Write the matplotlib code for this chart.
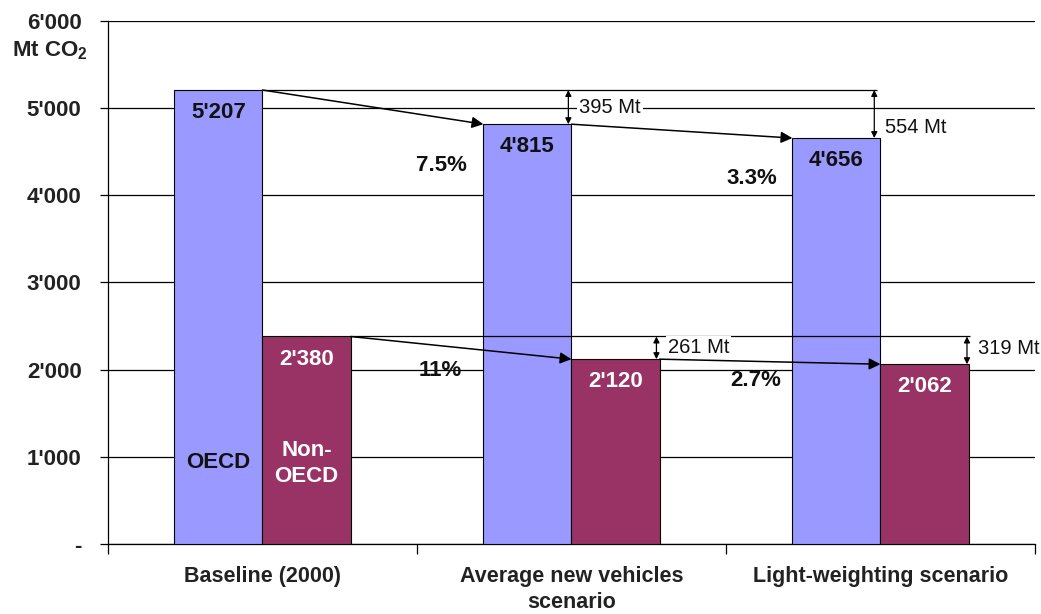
import matplotlib.pyplot as plt
from matplotlib.ticker import FixedLocator

plt.rcParams["font.family"] = ["Liberation Sans", "DejaVu Sans"]
plt.rcParams["mathtext.fontset"] = "custom"
plt.rcParams["mathtext.bf"] = "Liberation Sans:bold"
plt.rcParams["mathtext.rm"] = "Liberation Sans:bold"

categories = ["Baseline (2000)", "Average new vehicles\nscenario", "Light-weighting scenario"]
oecd = [5207, 4815, 4656]
non_oecd = [2380, 2120, 2062]
oecd_step_pct = ["7.5%", "3.3%"]
non_oecd_step_pct = ["11%", "2.7%"]
oecd_drop = [395, 554]
non_oecd_drop = [261, 319]
yticks = [0, 1000, 2000, 3000, 4000, 5000, 6000]
ytick_labels = ["-", "1'000", "2'000", "3'000", "4'000", "5'000", "6'000"]

c_oecd = "#9999FF"
c_non = "#993366"
w = 0.285


def fmt(v):
    return f"{v // 1000}'{v % 1000:03d}"


fig = plt.figure(figsize=(10.41, 6.14), dpi=100)
ax = fig.add_axes([0.1037, 0.114, 0.8905, 0.852])

x = list(range(len(categories)))
x_o = [i - w / 2 for i in x]
x_n = [i + w / 2 for i in x]
ax.bar(x_o, oecd, width=w, color=c_oecd, edgecolor="black", linewidth=0.8, zorder=3)
ax.bar(x_n, non_oecd, width=w, color=c_non, edgecolor="black", linewidth=0.8, zorder=3)

ax.set_xlim(-0.5, 2.5)
ax.set_ylim(0, 6000)
ax.yaxis.grid(True, color="black", linewidth=0.9, zorder=0)
ax.set_axisbelow(True)
for s in ["top", "right"]:
    ax.spines[s].set_visible(False)
ax.spines["left"].set_linewidth(0.9)
ax.spines["bottom"].set_linewidth(0.9)

ax.set_yticks(yticks)
ax.set_yticklabels(ytick_labels, fontsize=16, fontweight="bold", color="#222222")
ax.tick_params(axis="y", length=6, width=0.9, pad=13)
ax.xaxis.set_major_locator(FixedLocator([-0.5, 0.5, 1.5, 2.5]))
ax.xaxis.set_minor_locator(FixedLocator(x))
ax.set_xticklabels([], minor=False)
ax.set_xticklabels(categories, minor=True, fontsize=15.5, fontweight="bold",
                   color="#222222", linespacing=1.3)
ax.tick_params(axis="x", which="major", length=7, width=0.9)
ax.tick_params(axis="x", which="minor", length=0, pad=16)

fig.text(0.084, 0.918, r"Mt CO$_{\mathbf{2}}$", ha="right", va="center",
         fontsize=16, fontweight="bold", color="#222222")

# values inside bars
for xi, v in zip(x_o, oecd):
    ax.text(xi, v - 260, fmt(v), ha="center", va="center", fontsize=16,
            fontweight="bold", color="#111111", zorder=4)
for xi, v in zip(x_n, non_oecd):
    ax.text(xi, v - 260, fmt(v), ha="center", va="center", fontsize=16,
            fontweight="bold", color="white", zorder=4)
ax.text(x_o[0], 930, "OECD", ha="center", va="center", fontsize=16,
        fontweight="bold", color="#111111", zorder=4)
ax.text(x_n[0], 925, "Non-\nOECD", ha="center", va="center", fontsize=16,
        fontweight="bold", color="white", zorder=4, linespacing=1.3)

arrow = dict(arrowstyle="-|>", color="black", lw=1.1, mutation_scale=17,
             shrinkA=0, shrinkB=0)
darrow = dict(arrowstyle="<|-|>", color="black", lw=0.9, mutation_scale=9,
              shrinkA=0, shrinkB=0)


def steps(vals, xs_left, xs_right, pcts, drops, pct_pos, drop_x, lbl_y):
    base = vals[0]
    # reference line at baseline level
    ax.plot([xs_right[0], drop_x[-1] + 0.01], [base, base], color="black",
            lw=0.9, zorder=5, solid_capstyle="butt")
    for i in range(1, len(vals)):
        ax.annotate("", xy=(xs_left[i], vals[i]), xytext=(xs_right[i - 1], vals[i - 1]),
                    arrowprops=arrow, zorder=6)
        ax.text(pct_pos[i - 1][0], pct_pos[i - 1][1], pcts[i - 1], ha="center",
                va="center", fontsize=16, fontweight="bold", color="#111111", zorder=6)
        ax.annotate("", xy=(drop_x[i - 1], vals[i]), xytext=(drop_x[i - 1], base),
                    arrowprops=darrow, zorder=6)
        ax.text(drop_x[i - 1] + 0.036, lbl_y[i - 1], f"{drops[i - 1]} Mt", ha="left",
                va="center", fontsize=14.5, color="#111111", zorder=6,
                bbox=dict(facecolor="white", edgecolor="none", pad=1.5))


steps(oecd, [i - w for i in x], x, oecd_step_pct, oecd_drop,
      [(0.58, 4346), (1.584, 4197)], [0.99, 1.98], [5010, 4782])
steps(non_oecd, x, [i + w for i in x], non_oecd_step_pct, non_oecd_drop,
      [(0.574, 1995), (1.597, 1881)], [1.275, 2.28], [2259, 2248])

fig.savefig("out.png", dpi=100)
